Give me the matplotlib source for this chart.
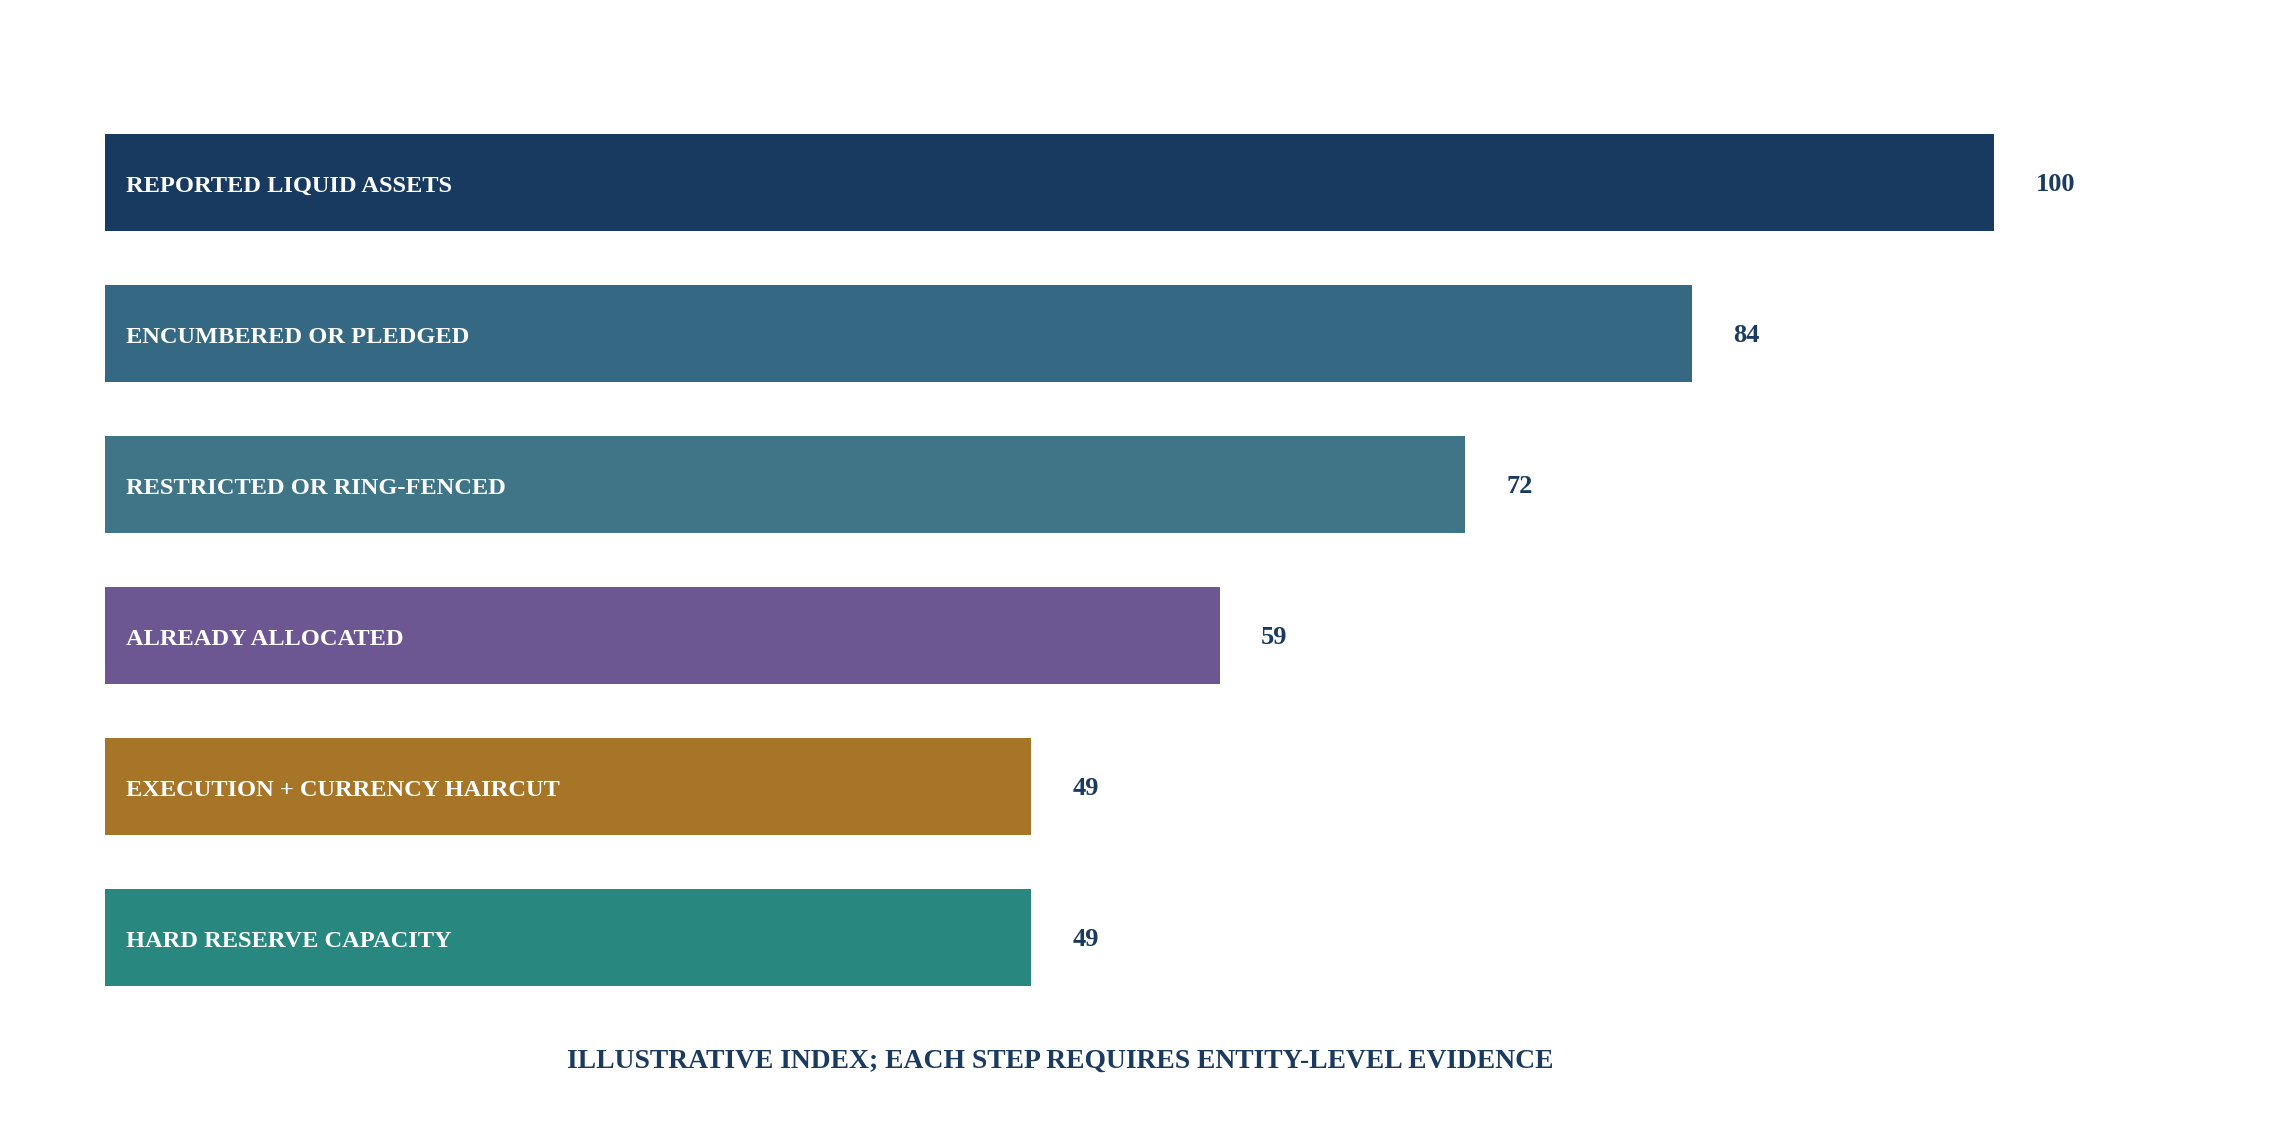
import matplotlib.pyplot as plt

# Werte
categories = [
    "REPORTED LIQUID ASSETS",
    "ENCUMBERED OR PLEDGED",
    "RESTRICTED OR RING-FENCED",
    "ALREADY ALLOCATED",
    "EXECUTION + CURRENCY HAIRCUT",
    "HARD RESERVE CAPACITY",
]
values = [100, 84, 72, 59, 49, 49]
bar_colors = ["#193a60", "#356882", "#407588", "#6c5793", "#a67528", "#28877e"]
caption = "ILLUSTRATIVE INDEX; EACH STEP REQUIRES ENTITY-LEVEL EVIDENCE"

navy = "#1a3a60"
serif = ["Liberation Serif", "DejaVu Serif"]

W, H = 2287, 1121
fig = plt.figure(figsize=(W / 100, H / 100), dpi=100)

# Achse in Pixelkoordinaten platzieren
left_px, right_px = 105, 2015
top_px, bottom_px = 92, 1028
ax = fig.add_axes([left_px / W, 1 - bottom_px / H, (right_px - left_px) / W, (bottom_px - top_px) / H])

y = list(range(len(categories)))
ax.barh(y, values, height=0.64, color=bar_colors, edgecolor="none")

ax.set_xlim(0, 100 * (right_px - left_px) / (1994 - left_px))
ax.set_ylim(len(categories) - 0.4, -0.6)

for i, (cat, val) in enumerate(zip(categories, values)):
    ax.text(1.1, i + 0.025, cat, color="white", fontsize=17.6, fontweight="bold",
            family=serif, va="center", ha="left")
    ax.text(val + 2.2, i + 0.015, f"{val}", color=navy, fontsize=19, fontweight="bold",
            family=serif, va="center", ha="left", clip_on=False)

ax.text(0.5, -0.035, caption, transform=ax.transAxes, color=navy, fontsize=19.9,
        fontweight="bold", family=serif, ha="center", va="center")

ax.set_xticks([])
ax.set_yticks([])
for s in ax.spines.values():
    s.set_visible(False)

fig.savefig("out.png", dpi=100, facecolor="white")
